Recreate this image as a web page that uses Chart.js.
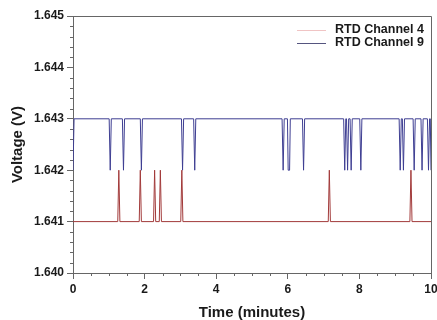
<!DOCTYPE html>
<html>
<head>
<meta charset="utf-8">
<script src="https://cdn.jsdelivr.net/npm/chart.js@4/dist/chart.umd.min.js"></script>
<style>
  html, body { margin: 0; padding: 0; background: #fff; }
  #wrap { width: 437px; height: 320px; }
</style>
</head>
<body>
<div id="wrap"><canvas id="chart" width="437" height="320"></canvas></div>
<script>
// readings (time in minutes, voltage in V)
const ch4Time = [0, 1.25, 1.28, 1.31, 1.85, 1.88, 1.91, 2.25, 2.28, 2.31, 2.41, 2.44, 2.47, 3.01, 3.04, 3.07, 7.13, 7.16, 7.19, 9.41, 9.44, 9.47, 10]
const ch4Volt = [1.641, 1.641, 1.642, 1.641, 1.641, 1.642, 1.641, 1.641, 1.642, 1.641, 1.641, 1.642, 1.641, 1.641, 1.642, 1.641, 1.641, 1.642, 1.641, 1.641, 1.642, 1.641, 1.641]

const ch9Time = [0, 0.03, 1.01, 1.04, 1.07, 1.38, 1.41, 1.44, 1.88, 1.91, 1.94, 3.03, 3.06, 3.09, 3.37, 3.40, 3.43,
  5.84, 5.87, 5.90, 5.99, 6.01, 6.05, 6.07, 6.41, 6.44, 6.47, 7.56, 7.59, 7.62, 7.64, 7.67, 7.70, 7.74, 7.77, 7.80,
  8.01, 8.04, 8.07, 9.11, 9.14, 9.17, 9.20, 9.23, 9.26, 9.50, 9.53, 9.56, 9.72, 9.75, 9.78, 9.90, 9.93, 9.96, 9.98, 10]
const ch9Volt = [1.642, 1.643, 1.643, 1.642, 1.643, 1.643, 1.642, 1.643, 1.643, 1.642, 1.643, 1.643, 1.642, 1.643, 1.643, 1.642, 1.643,
  1.643, 1.642, 1.643, 1.643, 1.642, 1.642, 1.643, 1.643, 1.642, 1.643, 1.643, 1.642, 1.643, 1.643, 1.642, 1.643, 1.643, 1.642, 1.643,
  1.643, 1.642, 1.643, 1.643, 1.642, 1.643, 1.643, 1.642, 1.643, 1.643, 1.642, 1.643, 1.643, 1.642, 1.643, 1.643, 1.642, 1.643, 1.643, 1.642]

const seriesLabels = ['RTD Channel 4', 'RTD Channel 9']
const xTicks = [0, 2, 4, 6, 8, 10]
const yTicks = [1.640, 1.641, 1.642, 1.643, 1.644, 1.645]

const FONT = "'Liberation Sans', Arial, sans-serif"
const AXIS = '#666'

const toPoints = (xs, ys) => xs.map((x, i) => ({ x: x, y: ys[i] }))

// minor ticks, top/right frame and the legend box
const frame = {
  id: 'frame',
  afterDraw(chart) {
    const { ctx, chartArea: a, scales: { x, y } } = chart
    ctx.save()
    ctx.strokeStyle = AXIS
    ctx.lineWidth = 1
    ctx.beginPath()
    ctx.moveTo(a.left, a.top + 0.5)
    ctx.lineTo(a.right + 0.5, a.top + 0.5)
    ctx.lineTo(a.right + 0.5, a.bottom)
    ctx.stroke()

    ctx.beginPath()
    for (let i = 0; i <= 20; i++) {
      if (i % 4 === 0) continue
      const px = Math.round(x.getPixelForValue(i * 0.5)) + 0.5
      ctx.moveTo(px, a.bottom)
      ctx.lineTo(px, a.bottom + 3)
    }
    for (let i = 0; i <= 25; i++) {
      if (i % 5 === 0) continue
      const py = Math.round(y.getPixelForValue(1.640 + i * 0.0002)) + 0.5
      ctx.moveTo(a.left, py)
      ctx.lineTo(a.left - 3, py)
    }
    ctx.stroke()

    const legendColors = ['#f0c4c4', '#55557f']
    ctx.font = 'bold 12.5px ' + FONT
    ctx.fillStyle = '#1a1a1a'
    ctx.textBaseline = 'middle'
    seriesLabels.forEach((label, i) => {
      const ly = a.top + 14 + i * 13
      ctx.strokeStyle = legendColors[i]
      ctx.beginPath()
      ctx.moveTo(a.right - 134, ly + 0.5)
      ctx.lineTo(a.right - 105, ly + 0.5)
      ctx.stroke()
      ctx.fillText(label, a.right - 96, ly)
    })
    ctx.restore()
  }
}

new Chart(document.getElementById('chart').getContext('2d'), {
  type: 'line',
  data: {
    datasets: [
      {
        label: seriesLabels[0],
        data: toPoints(ch4Time, ch4Volt),
        borderColor: '#a23a3a',
        borderWidth: 1,
        pointRadius: 0,
        tension: 0
      },
      {
        label: seriesLabels[1],
        data: toPoints(ch9Time, ch9Volt),
        borderColor: '#3e3e92',
        borderWidth: 1,
        pointRadius: 0,
        tension: 0
      }
    ]
  },
  options: {
    responsive: false,
    animation: false,
    layout: { padding: { top: 16, right: 6, left: 0, bottom: 0 } },
    plugins: {
      legend: { display: false },
      tooltip: { enabled: false }
    },
    scales: {
      x: {
        type: 'linear',
        min: 0,
        max: 10,
        afterBuildTicks: s => { s.ticks = xTicks.map(v => ({ value: v })) },
        afterFit: s => { s.height = 47; s.paddingRight = 0; s.paddingLeft = 0 },
        ticks: {
          color: '#1a1a1a',
          font: { family: FONT, size: 12, weight: 'bold' },
          padding: 3,
          maxRotation: 0,
          callback: v => String(v)
        },
        grid: { drawOnChartArea: false, tickLength: 6, color: AXIS },
        border: { color: AXIS },
        title: {
          display: true,
          text: 'Time (minutes)',
          color: '#1a1a1a',
          font: { family: FONT, size: 15, weight: 'bold' },
          padding: { top: 0, bottom: -2 }
        }
      },
      y: {
        type: 'linear',
        min: 1.640,
        max: 1.645,
        afterBuildTicks: s => { s.ticks = yTicks.map(v => ({ value: v })) },
        afterFit: s => { s.width = 73; s.paddingTop = 0; s.paddingBottom = 0 },
        ticks: {
          color: '#1a1a1a',
          font: { family: FONT, size: 12, weight: 'bold' },
          padding: 3,
          callback: v => Number(v).toFixed(3)
        },
        grid: { drawOnChartArea: false, tickLength: 6, color: AXIS },
        border: { color: AXIS },
        title: {
          display: true,
          text: 'Voltage (V)',
          color: '#1a1a1a',
          font: { family: FONT, size: 15, weight: 'bold' },
          padding: { top: 9, bottom: 0 }
        }
      }
    }
  },
  plugins: [frame]
})
</script>
</body>
</html>
